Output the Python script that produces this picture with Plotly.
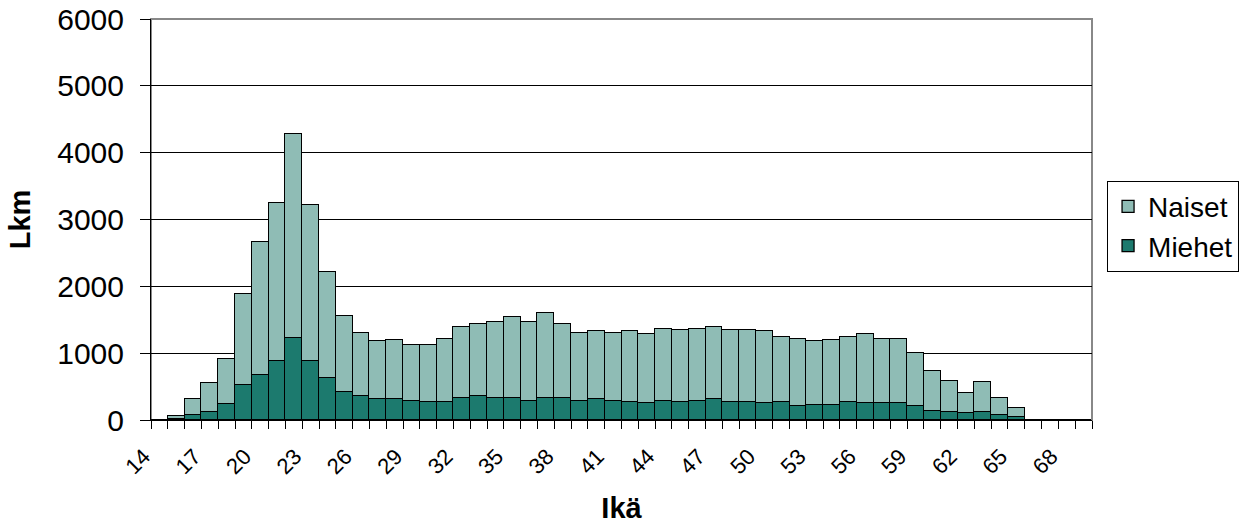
import plotly.graph_objects as go

# Age categories 14..69
ages = list(range(14, 70))

# Totals (stack height) and men per age
totals = [0, 65, 320, 550, 920, 1885, 2670, 3250, 4285, 3210, 2220, 1555, 1300, 1175,
          1190, 1125, 1125, 1215, 1385, 1430, 1470, 1535, 1470, 1600, 1430, 1305, 1325,
          1305, 1325, 1285, 1365, 1345, 1365, 1385, 1345, 1345, 1325, 1240, 1215, 1175,
          1195, 1240, 1285, 1215, 1215, 1010, 730, 590, 400, 565, 335, 185, 0, 0, 0, 0]
miehet = [0, 12, 80, 120, 245, 525, 675, 890, 1230, 890, 635, 420, 360, 312,
          315, 290, 270, 270, 335, 355, 335, 335, 290, 335, 335, 290, 315,
          290, 270, 250, 290, 270, 290, 315, 270, 270, 250, 270, 205, 225,
          225, 270, 250, 250, 250, 205, 140, 120, 100, 120, 80, 40, 0, 0, 0, 0]
naiset = [t - m for t, m in zip(totals, miehet)]

label_ages = list(range(14, 70, 3))

# tick marks sit on category boundaries; every third boundary carries the age label
boundaries = [a - 0.5 for a in ages] + [ages[-1] + 0.5]
boundary_text = [str(int(b + 0.5)) if int(b + 0.5) in label_ages else "" for b in boundaries]

FONT = "Liberation Sans, Arial, sans-serif"
LIGHT = "#8FBCB5"
DARK = "#1C7A6E"

fig = go.Figure()
fig.add_trace(go.Bar(x=ages, y=miehet, name="Miehet",
                     marker=dict(color=DARK, line=dict(color="#000000", width=1.3))))
fig.add_trace(go.Bar(x=ages, y=naiset, name="Naiset",
                     marker=dict(color=LIGHT, line=dict(color="#000000", width=1.3))))

fig.update_layout(
    width=1256, height=524,
    margin=dict(l=151, r=164, t=19, b=104),
    paper_bgcolor="white", plot_bgcolor="white",
    barmode="stack", bargap=0,
    font=dict(family=FONT, size=20, color="#000000"),
    showlegend=True,
    legend=dict(x=1.016, y=0.597, xanchor="left", yanchor="top",
                traceorder="reversed",
                bordercolor="#000000", borderwidth=1,
                font=dict(family=FONT, size=28, color="#000000")),
    xaxis=dict(range=[13.5, 69.5], tickmode="array", tickvals=boundaries, ticktext=boundary_text,
               ticks="outside", ticklen=8, tickcolor="#000000", tickwidth=1,
               tickangle=-45, ticklabelshift=-7, ticklabelstandoff=6,
               tickfont=dict(family=FONT, size=22),
               showline=True, linecolor="#000000", linewidth=1, showgrid=False, zeroline=False,
               automargin=False,
               title=dict(text="<b>Ikä</b>", font=dict(family=FONT, size=29), standoff=22)),
    yaxis=dict(range=[0, 6000], tickmode="linear", tick0=0, dtick=1000,
               ticks="outside", ticklen=10, tickcolor="#000000",
               showline=True, linecolor="#000000", linewidth=1,
               showgrid=True, gridcolor="#000000", gridwidth=1, zeroline=False,
               ticklabelstandoff=10, automargin=False,
               tickfont=dict(family=FONT, size=30),
               title=dict(text="<b>Lkm</b>", font=dict(family=FONT, size=29), standoff=18)),
    shapes=[dict(type="rect", xref="paper", yref="paper", x0=0, x1=1, y0=0, y1=1,
                 line=dict(color="#888888", width=2), layer="below")],
)

fig.write_html("out.html")
